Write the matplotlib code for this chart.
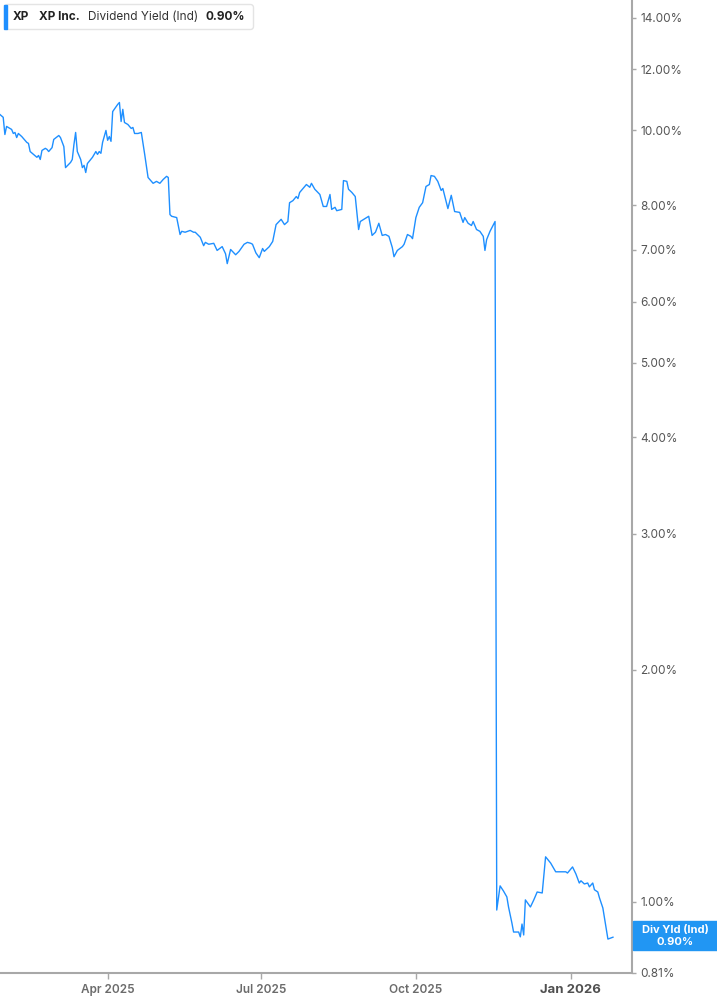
import matplotlib
matplotlib.use("Agg")
import matplotlib.pyplot as plt
import matplotlib.dates as mdates
import matplotlib.ticker as mticker
from matplotlib.patches import FancyBboxPatch, Rectangle
import pandas as pd

plt.rcParams["font.family"] = ["Inter", "DejaVu Sans"]

# ---- data: XP Inc. indicated dividend yield (%) ----
dates = [
    "2025-01-27", "2025-01-29", "2025-01-30", "2025-01-31", "2025-02-03", "2025-02-04",
    "2025-02-05", "2025-02-06", "2025-02-07", "2025-02-09", "2025-02-12", "2025-02-13",
    "2025-02-14", "2025-02-16", "2025-02-18", "2025-02-19", "2025-02-20", "2025-02-21",
    "2025-02-23", "2025-02-24", "2025-02-25", "2025-02-27", "2025-02-28", "2025-03-03",
    "2025-03-04", "2025-03-06", "2025-03-07", "2025-03-10", "2025-03-11", "2025-03-12",
    "2025-03-13", "2025-03-14", "2025-03-16", "2025-03-17", "2025-03-18", "2025-03-19",
    "2025-03-20", "2025-03-23", "2025-03-25", "2025-03-26", "2025-03-27", "2025-03-28",
    "2025-03-29", "2025-03-31", "2025-04-01", "2025-04-02", "2025-04-03", "2025-04-04",
    "2025-04-07", "2025-04-08", "2025-04-09", "2025-04-10", "2025-04-11", "2025-04-13",
    "2025-04-15", "2025-04-16", "2025-04-17", "2025-04-19", "2025-04-21", "2025-04-23",
    "2025-04-25", "2025-04-28", "2025-04-30", "2025-05-02", "2025-05-04", "2025-05-06",
    "2025-05-07", "2025-05-08", "2025-05-09", "2025-05-12", "2025-05-14", "2025-05-15",
    "2025-05-17", "2025-05-20", "2025-05-22", "2025-05-23", "2025-05-26", "2025-05-28",
    "2025-05-29", "2025-05-31", "2025-06-03", "2025-06-05", "2025-06-08", "2025-06-10",
    "2025-06-11", "2025-06-13", "2025-06-16", "2025-06-18", "2025-06-21", "2025-06-23",
    "2025-06-25", "2025-06-26", "2025-06-28", "2025-06-30", "2025-07-02", "2025-07-03",
    "2025-07-06", "2025-07-08", "2025-07-10", "2025-07-13", "2025-07-15", "2025-07-17",
    "2025-07-18", "2025-07-20", "2025-07-22", "2025-07-23", "2025-07-24", "2025-07-26",
    "2025-07-28", "2025-07-30", "2025-07-31", "2025-08-02", "2025-08-05", "2025-08-07",
    "2025-08-09", "2025-08-11", "2025-08-12", "2025-08-14", "2025-08-15", "2025-08-18",
    "2025-08-19", "2025-08-21", "2025-08-22", "2025-08-24", "2025-08-26", "2025-08-28",
    "2025-08-29", "2025-09-01", "2025-09-03", "2025-09-05", "2025-09-07", "2025-09-09",
    "2025-09-11", "2025-09-13", "2025-09-15", "2025-09-17", "2025-09-18", "2025-09-20",
    "2025-09-23", "2025-09-24", "2025-09-26", "2025-09-28", "2025-09-29", "2025-10-01",
    "2025-10-03", "2025-10-05", "2025-10-07", "2025-10-09", "2025-10-10", "2025-10-12",
    "2025-10-14", "2025-10-16", "2025-10-17", "2025-10-20", "2025-10-22", "2025-10-24",
    "2025-10-27", "2025-10-29", "2025-10-30", "2025-11-01", "2025-11-03", "2025-11-04",
    "2025-11-06", "2025-11-08", "2025-11-10", "2025-11-11", "2025-11-12", "2025-11-14",
    "2025-11-17", "2025-11-18", "2025-11-20", "2025-11-22", "2025-11-24", "2025-11-25",
    "2025-11-27", "2025-11-28", "2025-12-01", "2025-12-02", "2025-12-03", "2025-12-04",
    "2025-12-05", "2025-12-08", "2025-12-10", "2025-12-12", "2025-12-15", "2025-12-17",
    "2025-12-20", "2025-12-23", "2025-12-29", "2025-12-30", "2026-01-02", "2026-01-04",
    "2026-01-06", "2026-01-07", "2026-01-09", "2026-01-11", "2026-01-12", "2026-01-14",
    "2026-01-15", "2026-01-17", "2026-01-18", "2026-01-20", "2026-01-23", "2026-01-26",
]
yield_pct = [
    10.49, 10.40, 9.88, 10.12, 10.03, 9.91,
    9.94, 9.79, 9.91, 9.82, 9.65, 9.62,
    9.39, 9.31, 9.23, 9.28, 9.17, 9.42,
    9.48, 9.45, 9.39, 9.50, 9.735, 9.85,
    9.79, 9.53, 8.95, 9.09, 9.17, 9.59,
    9.94, 9.39, 9.17, 8.95, 9.01, 8.82,
    9.06, 9.23, 9.39, 9.31, 9.39, 9.34,
    9.65, 10.00, 9.71, 9.82, 9.68, 10.58,
    10.81, 10.87, 10.27, 10.65, 10.24, 10.18,
    10.06, 10.09, 9.91, 9.91, 9.94, 9.31,
    8.69, 8.54, 8.59, 8.54, 8.64, 8.72,
    8.69, 7.78, 7.74, 7.71, 7.33, 7.40,
    7.38, 7.42, 7.38, 7.38, 7.27, 7.09,
    7.16, 7.12, 7.14, 6.99, 7.07, 6.92,
    6.72, 7.01, 6.90, 6.97, 7.12, 7.16,
    7.14, 7.12, 6.94, 6.84, 7.03, 6.97,
    7.07, 7.18, 7.55, 7.67, 7.55, 7.62,
    8.06, 8.11, 8.21, 8.16, 8.31, 8.41,
    8.51, 8.44, 8.54, 8.39, 8.26, 7.97,
    7.97, 8.26, 7.90, 7.95, 7.87, 7.90,
    8.61, 8.59, 8.39, 8.31, 8.21, 7.44,
    7.62, 7.69, 7.74, 7.31, 7.38, 7.58,
    7.31, 7.33, 7.29, 7.05, 6.86, 6.99,
    7.07, 7.12, 7.33, 7.29, 7.24, 7.71,
    7.95, 8.06, 8.46, 8.51, 8.74, 8.72,
    8.59, 8.36, 8.41, 7.92, 8.24, 7.85,
    7.83, 7.60, 7.71, 7.58, 7.53, 7.62,
    7.44, 7.40, 7.29, 6.99, 7.22, 7.40,
    7.62, 0.976, 1.049, 1.033, 1.015, 0.985,
    0.939, 0.914, 0.914, 0.901, 0.936, 0.906,
    1.006, 0.985, 1.006, 1.030, 1.027, 1.144,
    1.123, 1.094, 1.094, 1.090, 1.110, 1.087,
    1.058, 1.065, 1.055, 1.058, 1.046, 1.058,
    1.037, 1.030, 1.012, 0.982, 0.895, 0.900,
]
y_ticks = [0.81, 1.0, 2.0, 3.0, 4.0, 5.0, 6.0, 7.0, 8.0, 10.0, 12.0, 14.0]
x_ticks = ["2025-04-01", "2025-07-01", "2025-10-01", "2026-01-01"]
x_tick_labels = ["Apr 2025", "Jul 2025", "Oct 2025", "Jan 2026"]
last_value = yield_pct[-1]

LINE = "#1e8fff"
AXIS = "#a8a8a8"
TXT = "#555555"

W, H = 717, 1005
fig = plt.figure(figsize=(W / 100, H / 100), dpi=100)
ax = fig.add_axes([0, (H - 972.5) / H, 632 / W, 972.5 / H])

x = pd.to_datetime(dates)
ax.plot(x, yield_pct, color=LINE, lw=1.0, zorder=3)

ax.set_yscale("log")
ax.set_ylim(0.81, 14.76)
base = mdates.date2num(pd.Timestamp("2025-01-28"))
ax.set_xlim(base - 0.9, base + 374.3)

# right-hand yield axis
ax.yaxis.tick_right()
ax.yaxis.set_major_locator(mticker.FixedLocator(y_ticks))
ax.yaxis.set_minor_locator(mticker.NullLocator())
ax.yaxis.set_major_formatter(mticker.FuncFormatter(lambda v, p: f"{v:.2f}%"))
ax.tick_params(axis="y", which="major", length=3, width=1, color=AXIS,
               labelsize=8.5, labelcolor=TXT, pad=3)

ax.set_xticks(pd.to_datetime(x_ticks))
ax.set_xticklabels(x_tick_labels)
ax.tick_params(axis="x", length=4, width=1, color=AXIS, labelsize=8.5,
               labelcolor="#6b6b6b", pad=4)
for lbl in ax.get_xticklabels():
    lbl.set_fontweight("semibold")
last_lbl = ax.get_xticklabels()[-1]
last_lbl.set_fontsize(9.5)
last_lbl.set_fontweight("bold")
last_lbl.set_color("#505050")

for s in ("top", "left"):
    ax.spines[s].set_visible(False)
for s in ("right", "bottom"):
    ax.spines[s].set_color(AXIS)
    ax.spines[s].set_linewidth(1.5)

# overlay in pixel coordinates for the flag and the legend box
ax_flag = fig.add_axes([0, 0, 1, 1], facecolor="none")
ax_flag.set_axis_off()
ax_flag.set_xlim(0, W)
ax_flag.set_ylim(H, 0)
ax_flag.add_patch(Rectangle((633, 921), 84, 29, color="#2196f3", zorder=5))
ax_flag.text(675, 929.5, "Div Yld (Ind)", color="white", fontsize=8,
             fontweight="bold", ha="center", va="center", zorder=6)
ax_flag.text(675, 941.5, f"{last_value:.2f}%", color="white", fontsize=8,
             fontweight="bold", ha="center", va="center", zorder=6)

ax_flag.add_patch(FancyBboxPatch((4.5, 4.5), 249, 25,
                                 boxstyle="round,pad=0,rounding_size=3",
                                 fc="white", ec="#e4e4e4", lw=1, zorder=5))
ax_flag.add_patch(Rectangle((4, 5), 3, 24, color="#1e8fff", zorder=6))
ax_flag.text(13, 17, "XP", fontsize=8.5, fontweight="bold", color="#222222",
             va="center", zorder=6)
ax_flag.text(39, 17, "XP Inc.", fontsize=8.5, fontweight="bold", color="#222222",
             va="center", zorder=6)
ax_flag.text(88, 17, "Dividend Yield (Ind)", fontsize=8.5, color="#333333",
             va="center", zorder=6)
ax_flag.text(205, 17, f"{last_value:.2f}%", fontsize=8.5, fontweight="bold",
             color="#222222", va="center", zorder=6)

fig.savefig("out.png", dpi=100, facecolor="white")
